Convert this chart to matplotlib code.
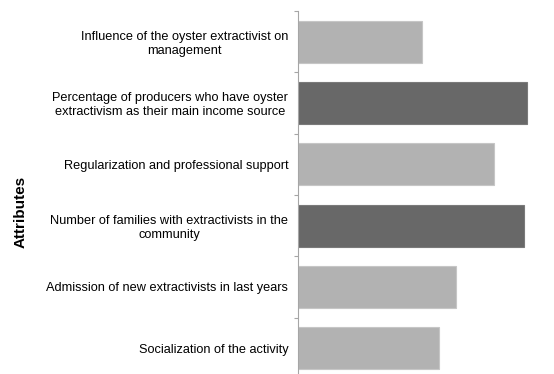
import matplotlib
matplotlib.use("Agg")
import matplotlib.pyplot as plt
import numpy as np

categories = [
    "Influence of the oyster extractivist on\nmanagement",
    "Percentage of producers who have oyster\nextractivism as their main income source",
    "Regularization and professional support",
    "Number of families with extractivists in the\ncommunity",
    "Admission of new extractivists in last years",
    "Socialization of the activity",
]
values = [0.485, 0.895, 0.766, 0.883, 0.617, 0.550]
highlight = [False, True, False, True, False, False]

plt.rcParams['font.family'] = ['Liberation Sans', 'DejaVu Sans']

fig = plt.figure(figsize=(5.54, 3.74), dpi=100)
ax = fig.add_axes([298/554, 1 - 379/374, 1 - 298/554, (379 - 11)/374])

n = len(categories)
pos = np.arange(n)
colors = ['#686868' if h else '#b2b2b2' for h in highlight]
edges = ['#7a7a7a' if h else '#c6c6c6' for h in highlight]
ax.barh(pos, values, height=0.68, color=colors, edgecolor=edges, linewidth=0.8)
ax.set_xlim(0, 1)
ax.set_ylim(n - 0.5, -0.5)

ax.set_yticks(np.arange(n + 1) - 0.5)
ax.set_yticklabels([])
ax.set_yticks(pos, minor=True)
ax.set_yticklabels(categories, minor=True, fontsize=9.2, multialignment='center')
ax.tick_params(axis='y', which='minor', length=0, pad=7)
ax.tick_params(axis='y', which='major', length=3, color='#a6a6a6', width=0.8)
ax.set_xticks([])
for s in ['top', 'right', 'bottom']:
    ax.spines[s].set_visible(False)
ax.spines['left'].set_color('#a6a6a6')
ax.spines['left'].set_linewidth(0.8)

fig.text(0.037, 1 - 212/374, "Attributes", rotation=90, fontsize=11, fontweight='bold',
         ha='center', va='center')

fig.savefig("out.png", dpi=100)
